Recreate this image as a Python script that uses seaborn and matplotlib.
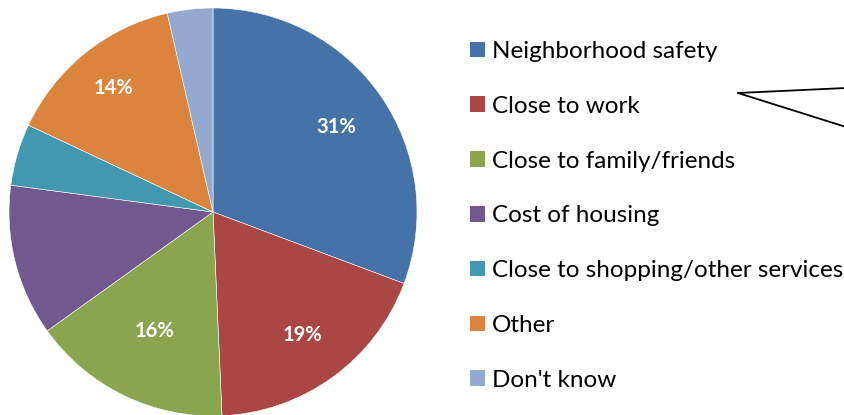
import matplotlib
matplotlib.use("Agg")
import numpy as np
import matplotlib.pyplot as plt
import seaborn as sns
from matplotlib.patches import Patch
from matplotlib.lines import Line2D

categories = ["Neighborhood safety", "Close to work", "Close to family/friends",
              "Cost of housing", "Close to shopping/other services", "Other", "Don't know"]
values = [30.7, 18.6, 15.8, 12.0, 4.9, 14.4, 3.6]
value_labels = ["31%", "19%", "16%", "", "", "14%", ""]
colors = ["#4572A7", "#AA4643", "#89A54E", "#71588F", "#4198AF", "#DB843D", "#93A9CF"]
label_dist = [0.735, 0.745, 0.65, 0.7, 0.7, 0.78, 0.7]

sns.set_theme(style="white")
plt.rcParams['font.family'] = ['Lato', 'DejaVu Sans']
plt.rcParams['text.color'] = 'black'

W, H = 845, 415
fig = plt.figure(figsize=(W / 100, H / 100), dpi=100)
cx, cy, r = 213, 203, 204
ax = fig.add_axes([(cx - r) / W, (cy - r) / H, 2 * r / W, 2 * r / H])
wedges, texts = ax.pie(values, colors=colors, startangle=90, counterclock=False,
                       radius=1, labels=value_labels, labeldistance=0.74,
                       wedgeprops=dict(edgecolor="white", linewidth=0.4),
                       textprops=dict(color="white", fontsize=14.5, fontweight="bold"))
for w, t, d in zip(wedges, texts, label_dist):
    ang = np.deg2rad((w.theta1 + w.theta2) / 2)
    t.set_position((d * np.cos(ang), d * np.sin(ang)))
    t.set_horizontalalignment("center")
    t.set_verticalalignment("center")
ax.set_xlim(-1, 1)
ax.set_ylim(-1, 1)
ax.set_axis_off()

fs = 17.5
fpx = fs * 100 / 72
handles = [Patch(facecolor=c, edgecolor="none") for c in colors]
fig.legend(handles, categories, loc="upper left",
           bbox_to_anchor=(470 / W, 1 - 41 / H), frameon=False,
           fontsize=fs, handlelength=15 / fpx, handleheight=15 / fpx,
           handletextpad=7 / fpx, labelspacing=1.39, borderaxespad=0, borderpad=0,
           labelcolor="black")

# callout outline at top right
def px(x, y):
    return (x / W, 1 - y / H)
tip = px(738, 93)
for end in [px(846, 88), px(846, 127)]:
    fig.add_artist(Line2D([tip[0], end[0]], [tip[1], end[1]], color="black", lw=1.3,
                          transform=fig.transFigure))

fig.savefig("out.png", dpi=100)
